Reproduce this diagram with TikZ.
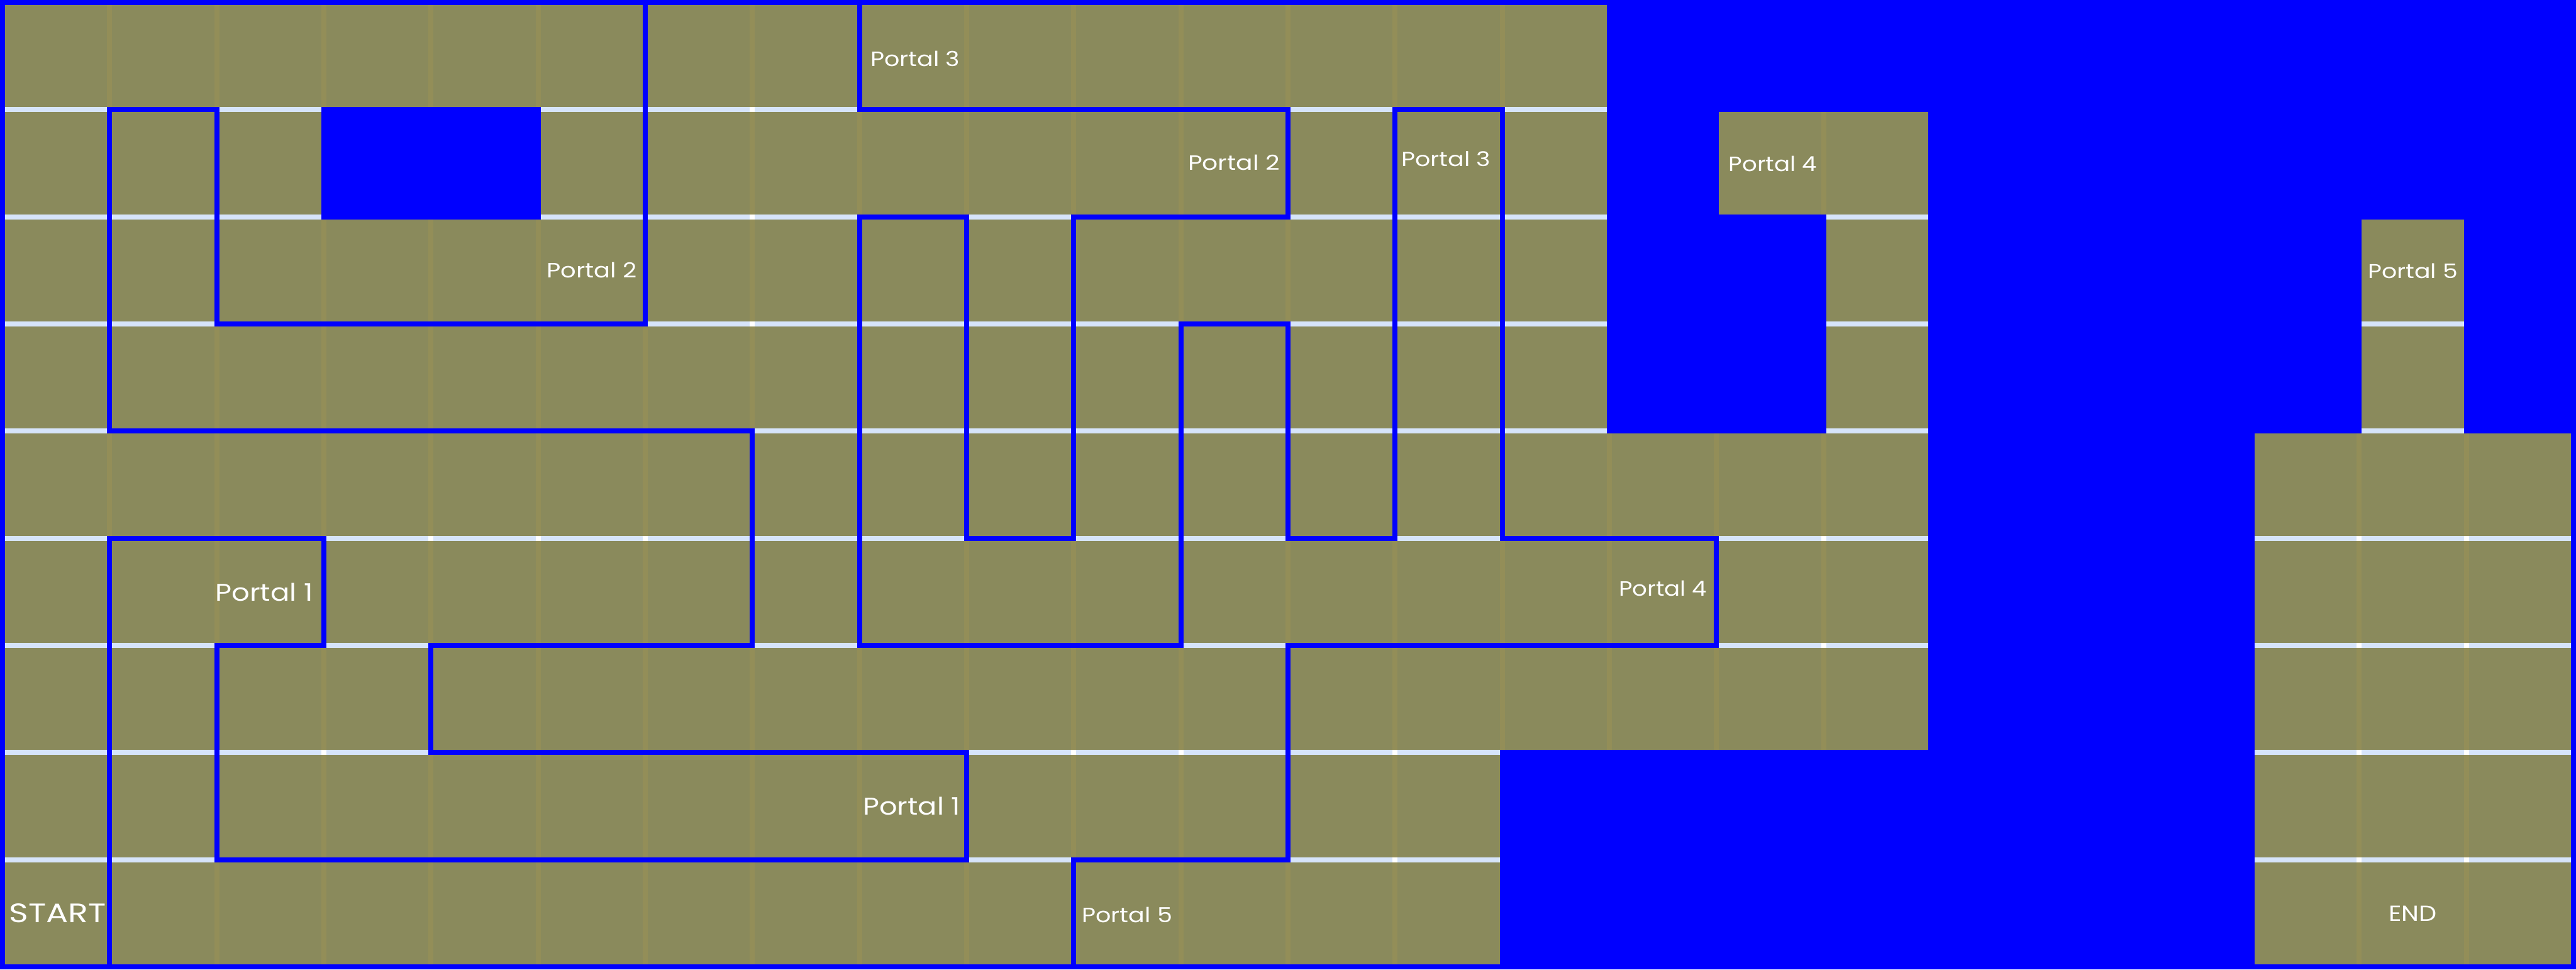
\documentclass[tikz,border=0pt]{standalone}
\usepackage{graphicx}
\usepackage{fontspec}
\setmainfont{Poppins}
\definecolor{tile}{RGB}{138,138,92}
\definecolor{vstrip}{RGB}{147,142,88}
\definecolor{hstrip}{RGB}{214,228,250}
\definecolor{pblue}{RGB}{0,0,255}
\tikzset{
  wall/.style={draw=pblue, line width=0.0476cm, line join=miter, line cap=rect},
  lbl/.style={text=white, inner sep=0pt, outer sep=0pt, anchor=center}
}
\newcommand{\lab}[3]{\resizebox{#1cm}{#2cm}{#3}}
\begin{document}
\begin{tikzpicture}
\def\dd{0.0238}
\useasboundingbox (-0.0238,-0.0238) rectangle (24.0238,9.0238);
\fill[pblue] (-0.0238,-0.0238) rectangle (24.0238,9.0238);
% tile runs: y (bottom of row) / first col / last col
\foreach \y/\a/\b in {8/0/14, 7/0/2, 7/5/14, 7/16/17, 6/0/14, 6/17/17, 6/22/22,
  5/0/14, 5/17/17, 5/22/22, 4/0/17, 4/21/23, 3/0/17, 3/21/23, 2/0/17, 2/21/23,
  1/0/13, 1/21/23, 0/0/13, 0/21/23}{
  \fill[tile] (\a+\dd,\y+\dd) rectangle (\b+1-\dd,\y+1-\dd);
  \ifnum\b>\a
    \pgfmathtruncatemacro\s{\a+1}
    \foreach \k in {\s,...,\b}{
      \fill[vstrip] (\k-\dd,\y+\dd) rectangle (\k+\dd,\y+1-\dd);
    }
  \fi
}
% horizontal separators between rows
\foreach \y/\a/\b in {8/0/2, 8/5/14, 7/0/2, 7/5/14, 7/17/17, 6/0/14, 6/17/17, 6/22/22,
  5/0/14, 5/17/17, 5/22/22, 4/0/17, 4/21/23, 3/0/17, 3/21/23, 2/0/13, 2/21/23,
  1/0/13, 1/21/23}{
  \fill[hstrip] (\a+\dd,\y-\dd) rectangle (\b+1-\dd,\y+\dd);
  \ifnum\b>\a
    \pgfmathtruncatemacro\s{\a+1}
    \foreach \k in {\s,...,\b}{
      \fill[white] (\k-\dd,\y-\dd) rectangle (\k+\dd,\y+\dd);
    }
  \fi
}
% walls
\draw[wall] (6,9) -- (6,6) -- (2,6) -- (2,8) -- (1,8) -- (1,5) -- (7,5) -- (7,3)
  -- (4,3) -- (4,2) -- (9,2) -- (9,1) -- (2,1) -- (2,3) -- (3,3) -- (3,4) -- (1,4) -- (1,0);
\draw[wall] (8,9) -- (8,8) -- (12,8) -- (12,7) -- (10,7) -- (10,4) -- (9,4) -- (9,7)
  -- (8,7) -- (8,3) -- (11,3) -- (11,6) -- (12,6) -- (12,4) -- (13,4) -- (13,8)
  -- (14,8) -- (14,4) -- (16,4) -- (16,3) -- (12,3) -- (12,1) -- (10,1) -- (10,0);
% labels
\node[lbl] (l1) at (8.52,8.476) {\lab{0.833}{0.143}{Portal 3}};
\node[lbl] (l2) at (11.495,7.505) {\lab{0.857}{0.143}{Portal 2}};
\node[lbl] (l3) at (13.474,7.54) {\lab{0.833}{0.14}{Portal 3}};
\node[lbl] (l4) at (16.526,7.495) {\lab{0.824}{0.143}{Portal 4}};
\node[lbl] (l5) at (5.5,6.505) {\lab{0.84}{0.143}{Portal 2}};
\node[lbl] (l6) at (22.5,6.495) {\lab{0.838}{0.138}{Portal 5}};
\node[lbl] (l7) at (2.443,3.495) {\lab{0.914}{0.167}{Portal 1}};
\node[lbl] (l8) at (15.5,3.533) {\lab{0.824}{0.143}{Portal 4}};
\node[lbl] (l9) at (8.488,1.5) {\lab{0.91}{0.167}{Portal 1}};
\node[lbl] (l10) at (10.498,0.486) {\lab{0.843}{0.143}{Portal 5}};
\node[lbl] (l11) at (0.514,0.5) {\lab{0.905}{0.176}{START}};
\node[lbl] (l12) at (22.5,0.5) {\lab{0.448}{0.143}{END}};
\end{tikzpicture}
\end{document}
